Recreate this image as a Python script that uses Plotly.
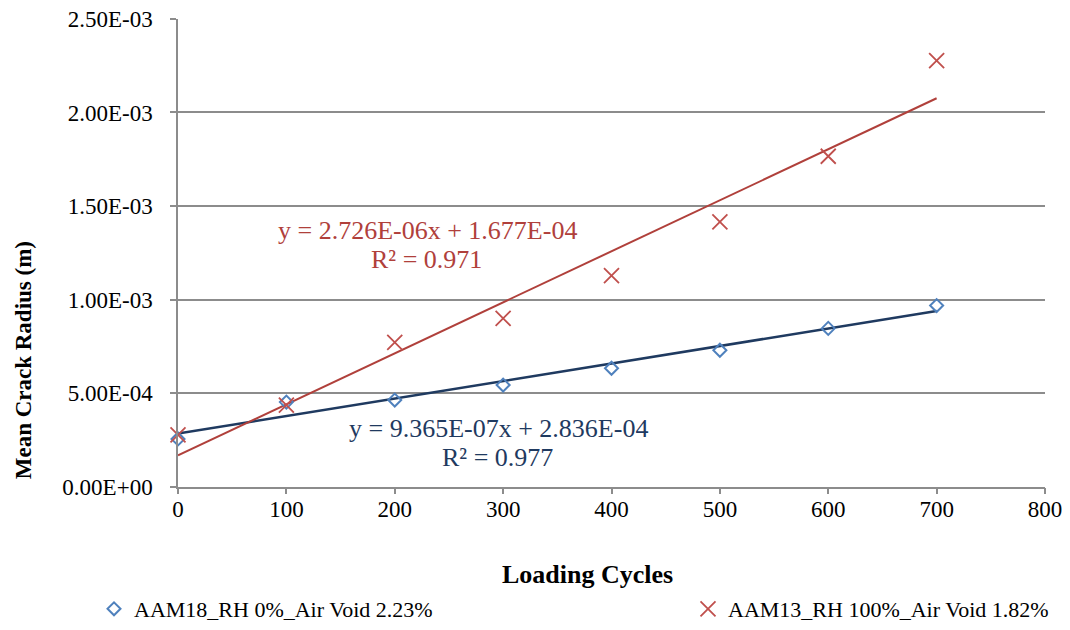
import plotly.graph_objects as go

# Loading cycles and measured mean crack radius (m)
cycles = [0, 100, 200, 300, 400, 500, 600, 700]
radius_rh0 = [2.55e-4, 4.52e-4, 4.63e-4, 5.43e-4, 6.33e-4, 7.29e-4, 8.46e-4, 9.68e-4]
radius_rh100 = [2.77e-4, 4.36e-4, 7.71e-4, 8.99e-4, 1.128e-3, 1.415e-3, 1.766e-3, 2.277e-3]

# Linear trendline coefficients (slope, intercept, R²)
fit_rh0 = (9.365e-07, 2.836e-04, 0.977)
fit_rh100 = (2.726e-06, 1.677e-04, 0.971)

y_ticks = [0, 5e-4, 1e-3, 1.5e-3, 2e-3, 2.5e-3]
y_tick_text = ["0.00E+00", "5.00E-04", "1.00E-03", "1.50E-03", "2.00E-03", "2.50E-03"]
x_ticks = [0, 100, 200, 300, 400, 500, 600, 700, 800]

FONT = "Liberation Serif, Times New Roman, serif"
BLUE = "#4F81BD"
RED = "#C0504D"
BLUE_DARK = "#1F3A60"
RED_DARK = "#B0403B"
GRID = "#8C8C8C"

W, H = 1070, 630
# plot area in pixels (left, right, top, bottom)
PL, PR, PT, PB = 178, 1045, 19, 489


def fx(p):
    return p / W


def fy(p):
    return 1 - p / H


def line_pts(fit):
    xs = [cycles[0], cycles[-1]]
    return xs, [fit[0] * x + fit[1] for x in xs]


fig = go.Figure()

tx, ty = line_pts(fit_rh0)
fig.add_trace(go.Scatter(x=tx, y=ty, mode="lines", line=dict(color=BLUE_DARK, width=2.5),
                         showlegend=False, hoverinfo="skip"))
tx, ty = line_pts(fit_rh100)
fig.add_trace(go.Scatter(x=tx, y=ty, mode="lines", line=dict(color=RED_DARK, width=2),
                         showlegend=False, hoverinfo="skip"))

fig.add_trace(go.Scatter(
    x=cycles, y=radius_rh0, mode="markers", name="AAM18_RH 0%_Air Void 2.23%",
    marker=dict(symbol="diamond-open", size=10, color=BLUE, line=dict(width=2, color=BLUE)),
    cliponaxis=False, legend="legend"))
fig.add_trace(go.Scatter(
    x=cycles, y=radius_rh100, mode="markers", name="AAM13_RH 100%_Air Void 1.82%",
    marker=dict(symbol="x-thin-open", size=15, color=RED, line=dict(width=1.8, color=RED)),
    cliponaxis=False, legend="legend2"))


def eq_text(fit):
    def sci(v):
        m, e = f"{v:.3E}".split("E")
        return f"{m}E{int(e):+03d}"
    return f"y = {sci(fit[0])}x + {sci(fit[1])}"


EQ = 26
annotations = [
    dict(text=eq_text(fit_rh100), x=fx(427), y=fy(232), font=dict(color=RED_DARK, size=EQ)),
    dict(text=f"R² = {fit_rh100[2]:.3f}", x=fx(426), y=fy(261), font=dict(color=RED_DARK, size=EQ)),
    dict(text=eq_text(fit_rh0), x=fx(498), y=fy(431), font=dict(color=BLUE_DARK, size=EQ)),
    dict(text=f"R² = {fit_rh0[2]:.3f}", x=fx(497), y=fy(460), font=dict(color=BLUE_DARK, size=EQ)),
    dict(text="<b>Loading Cycles</b>", x=fx(587), y=fy(577), font=dict(color="black", size=26)),
    dict(text="<b>Mean Crack Radius (m)</b>", x=fx(23), y=fy(362), textangle=-90,
         font=dict(color="black", size=23)),
]
for a in annotations:
    a.update(xref="paper", yref="paper", showarrow=False, xanchor="center", yanchor="middle")
    a["font"]["family"] = FONT

axis_common = dict(showline=True, linecolor=GRID, linewidth=1.5, zeroline=False,
                   ticks="outside", ticklen=6, tickcolor=GRID, tickwidth=1.5,
                   tickfont=dict(size=23), automargin=False)

fig.update_layout(
    width=W, height=H,
    margin=dict(l=0, r=0, t=0, b=0),
    paper_bgcolor="white", plot_bgcolor="white",
    font=dict(family=FONT, size=23, color="black"),
    annotations=annotations,
    legend=dict(x=fx(94), y=fy(612), xanchor="left", yanchor="middle",
                font=dict(size=22), itemwidth=30, bgcolor="rgba(0,0,0,0)"),
    legend2=dict(x=fx(688), y=fy(612), xanchor="left", yanchor="middle",
                 font=dict(size=22), itemwidth=30, bgcolor="rgba(0,0,0,0)"),
    xaxis=dict(domain=[fx(PL), fx(PR)], range=[0, 800], tickvals=x_ticks,
               ticktext=[str(v) for v in x_ticks], showgrid=False,
               ticklabelstandoff=-5, **axis_common),
    yaxis=dict(domain=[fy(PB), fy(PT)], range=[0, 2.5e-3], tickvals=y_ticks,
               ticktext=y_tick_text, showgrid=True, gridcolor=GRID, gridwidth=1.5,
               ticklabelstandoff=13, **axis_common),
)

fig.write_html("out.html")
